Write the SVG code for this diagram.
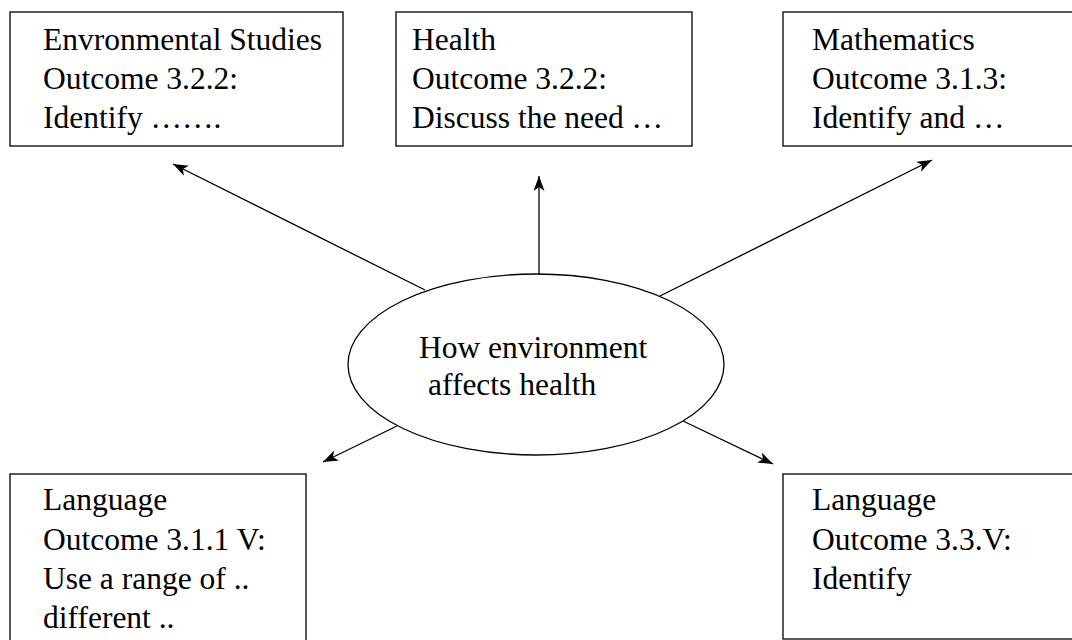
<svg xmlns="http://www.w3.org/2000/svg" width="1072" height="640" viewBox="0 0 1072 640">
<style>
.box{fill:#fff;stroke:#000;stroke-width:1.3}
.t{font-family:"Liberation Serif","Times New Roman",serif;font-size:31.5px;fill:#000}
.c{stroke:#000;stroke-width:1.3;fill:none}
</style>
<defs>
<marker id="ah" markerUnits="userSpaceOnUse" markerWidth="16" markerHeight="12" viewBox="0 0 16 12" refX="15" refY="6" orient="auto">
<path d="M0,0.5 L15,6 L0,11.5 L4,6 z" fill="#000"/>
</marker>
</defs>
<rect width="1072" height="640" fill="#fff"/>
<g id="connectors">
<line class="c" x1="539" y1="274" x2="539" y2="176" marker-end="url(#ah)"/>
<line class="c" x1="425" y1="290" x2="173" y2="164" marker-end="url(#ah)"/>
<line class="c" x1="660" y1="296" x2="932" y2="160" marker-end="url(#ah)"/>
<line class="c" x1="397" y1="426" x2="323" y2="462" marker-end="url(#ah)"/>
<line class="c" x1="683" y1="421" x2="773" y2="464" marker-end="url(#ah)"/>
</g>
<g id="center">
<ellipse class="box" cx="536" cy="364.5" rx="188" ry="90.5"/>
<text class="t" x="419" y="358">How environment</text>
<text class="t" x="428" y="395">affects health</text>
</g>
<g id="env">
<rect class="box" x="10" y="12" width="333" height="134"/>
<text class="t" x="43" y="50">Envronmental Studies</text>
<text class="t" x="43" y="89">Outcome 3.2.2:</text>
<text class="t" x="43" y="128">Identify …….</text>
</g>
<g id="health">
<rect class="box" x="396" y="12" width="296" height="134"/>
<text class="t" x="412" y="50">Health</text>
<text class="t" x="412" y="89">Outcome 3.2.2:</text>
<text class="t" x="412" y="128">Discuss the need …</text>
</g>
<g id="math">
<rect class="box" x="783" y="12" width="300" height="134"/>
<text class="t" x="812" y="50">Mathematics</text>
<text class="t" x="812" y="89">Outcome 3.1.3:</text>
<text class="t" x="812" y="128">Identify and …</text>
</g>
<g id="lang1">
<rect class="box" x="10" y="474" width="296" height="180"/>
<text class="t" x="43" y="510">Language</text>
<text class="t" x="43" y="550">Outcome 3.1.1 V:</text>
<text class="t" x="43" y="589">Use a range of ..</text>
<text class="t" x="43" y="628">different ..</text>
</g>
<g id="lang2">
<rect class="box" x="783" y="474" width="300" height="165"/>
<text class="t" x="812" y="510">Language</text>
<text class="t" x="812" y="550">Outcome 3.3.V:</text>
<text class="t" x="812" y="589">Identify</text>
</g>
</svg>
